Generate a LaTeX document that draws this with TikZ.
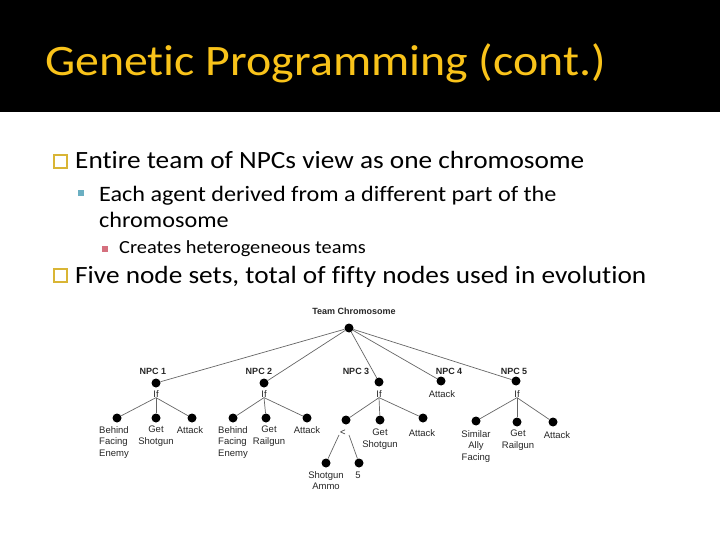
\documentclass[tikz,border=0pt]{standalone}
\usepackage{fontspec}
\setmainfont{Carlito}[FakeStretch=1.1, Ligatures=CommonOff]
\newfontfamily\treefont{Liberation Sans}
\definecolor{titlegold}{HTML}{F9C31A}
\definecolor{boxgold}{HTML}{D9B535}
\definecolor{tealb}{HTML}{6BAFC2}
\definecolor{pinkb}{HTML}{D5707E}
\definecolor{edgegray}{HTML}{666666}
\tikzset{
  titletext/.style={text=titlegold, font=\fontsize{43.5}{50}\selectfont, inner sep=0, anchor=base west},
  lvlone/.style={font=\fontsize{24.8}{30}\selectfont, inner sep=0, anchor=base west},
  lvltwo/.style={font=\fontsize{22}{27}\selectfont, inner sep=0, anchor=base west, align=left},
  lvlthree/.style={font=\fontsize{18.5}{22}\selectfont, inner sep=0, anchor=base west},
  hollowbox/.style={draw=boxgold, line width=1.6pt, minimum size=13.5pt, inner sep=0},
  sqbullet/.style={minimum size=6pt, inner sep=0},
  tdot/.style={circle, fill=black, inner sep=0, minimum size=9pt},
  lbl/.style={font=\treefont\fontsize{9.5}{11.5}\selectfont, inner sep=0, align=center, text=black!85},
  npclbl/.style={font=\treefont\bfseries\fontsize{9}{11}\selectfont, inner sep=0, text=black!85},
  edge/.style={draw=edgegray, line width=0.7pt}
}
\begin{document}
\begin{tikzpicture}[x=1pt,y=-1pt]
\useasboundingbox (0,0) rectangle (720,540);
\fill[black] (0,0) rectangle (720,112);
\node[titletext] (title) at (45,76) {Genetic Programming (cont.)};

% bullets and text
\node[hollowbox] (b1) at (60.5,161.5) {};
\node[lvlone] (t1) at (75,169) {Entire team of NPCs view as one chromosome};
\node[sqbullet, fill=tealb] (b2) at (81,193) {};
\node[lvltwo] (t2) at (99,202) {Each agent derived from a different part of the};
\node[lvltwo] (t2b) at (99,228) {chromosome};
\node[sqbullet, fill=pinkb] (b3) at (104.5,248.5) {};
\node[lvlthree] (t3) at (119,254) {Creates heterogeneous teams};
\node[hollowbox] (b4) at (60.5,275.5) {};
\node[lvlone] (t4) at (75,283) {Five node sets, total of fifty nodes used in evolution};

% tree
\node[npclbl] (rootl) at (354,311) {Team Chromosome};
\node[tdot] (root) at (349,328) {};

\node[npclbl] (l1) at (153,371) {NPC 1};
\node[npclbl] (l2) at (259,371) {NPC 2};
\node[npclbl] (l3) at (356,371) {NPC 3};
\node[npclbl] (l4) at (449,371) {NPC 4};
\node[npclbl] (l5) at (514,371) {NPC 5};

\node[tdot] (n1) at (156,383) {};
\node[tdot] (n2) at (264,383) {};
\node[tdot] (n3) at (379,382) {};
\node[tdot] (n4) at (441,381) {};
\node[tdot] (n5) at (516,381) {};

\node[lbl] (if1) at (156,394) {If};
\node[lbl] (if2) at (264,394) {If};
\node[lbl] (if3) at (379,394) {If};
\node[lbl] (att4) at (442,394) {Attack};
\node[lbl] (if5) at (517,394) {If};

% NPC1 children
\node[tdot] (c11) at (117,418) {};
\node[tdot] (c12) at (156,418) {};
\node[tdot] (c13) at (192,418) {};
\node[lbl, align=left, anchor=north west] (c11l) at (99,426) {Behind\\Facing\\Enemy};
\node[lbl, anchor=north] (c12l) at (156,426) {Get\\Shotgun};
\node[lbl] (c13l) at (190,430) {Attack};

% NPC2 children
\node[tdot] (c21) at (233,418) {};
\node[tdot] (c22) at (266,418) {};
\node[tdot] (c23) at (307,418) {};
\node[lbl, align=left, anchor=north west] (c21l) at (218,426) {Behind\\Facing\\Enemy};
\node[lbl, anchor=north] (c22l) at (269,426) {Get\\Railgun};
\node[lbl] (c23l) at (307,430) {Attack};

% NPC3 children
\node[tdot] (c31) at (346,420) {};
\node[tdot] (c32) at (380,420) {};
\node[tdot] (c33) at (423,418) {};
\node[lbl] (c31l) at (343,433) {<};
\node[lbl, anchor=north] (c32l) at (380,429) {Get\\Shotgun};
\node[lbl] (c33l) at (422,433) {Attack};
\node[tdot] (c311) at (326,463) {};
\node[tdot] (c312) at (359,463) {};
\node[lbl, anchor=north] (c311l) at (326,471) {Shotgun\\Ammo};
\node[lbl] (c312l) at (358,475) {5};

% NPC5 children
\node[tdot] (c51) at (476,421) {};
\node[tdot] (c52) at (517,422) {};
\node[tdot] (c53) at (553,422) {};
\node[lbl, anchor=north] (c51l) at (476,430) {Similar\\Ally\\Facing};
\node[lbl, anchor=north] (c52l) at (518,430) {Get\\Railgun};
\node[lbl] (c53l) at (557,435) {Attack};

% edges
\foreach \n in {n1,n2,n3,n4,n5} \draw[edge] (root) -- (\n);
\foreach \c in {c11,c12,c13} \draw[edge] (if1.south) -- (\c);
\foreach \c in {c21,c22,c23} \draw[edge] (if2.south) -- (\c);
\foreach \c in {c31,c32,c33} \draw[edge] (if3.south) -- (\c);
\foreach \c in {c51,c52,c53} \draw[edge] (if5.south) -- (\c);
\draw[edge] ([xshift=-4pt,yshift=1pt]c31l.south) -- (c311);
\draw[edge] ([xshift=6pt,yshift=1pt]c31l.south) -- (c312);
\end{tikzpicture}
\end{document}
